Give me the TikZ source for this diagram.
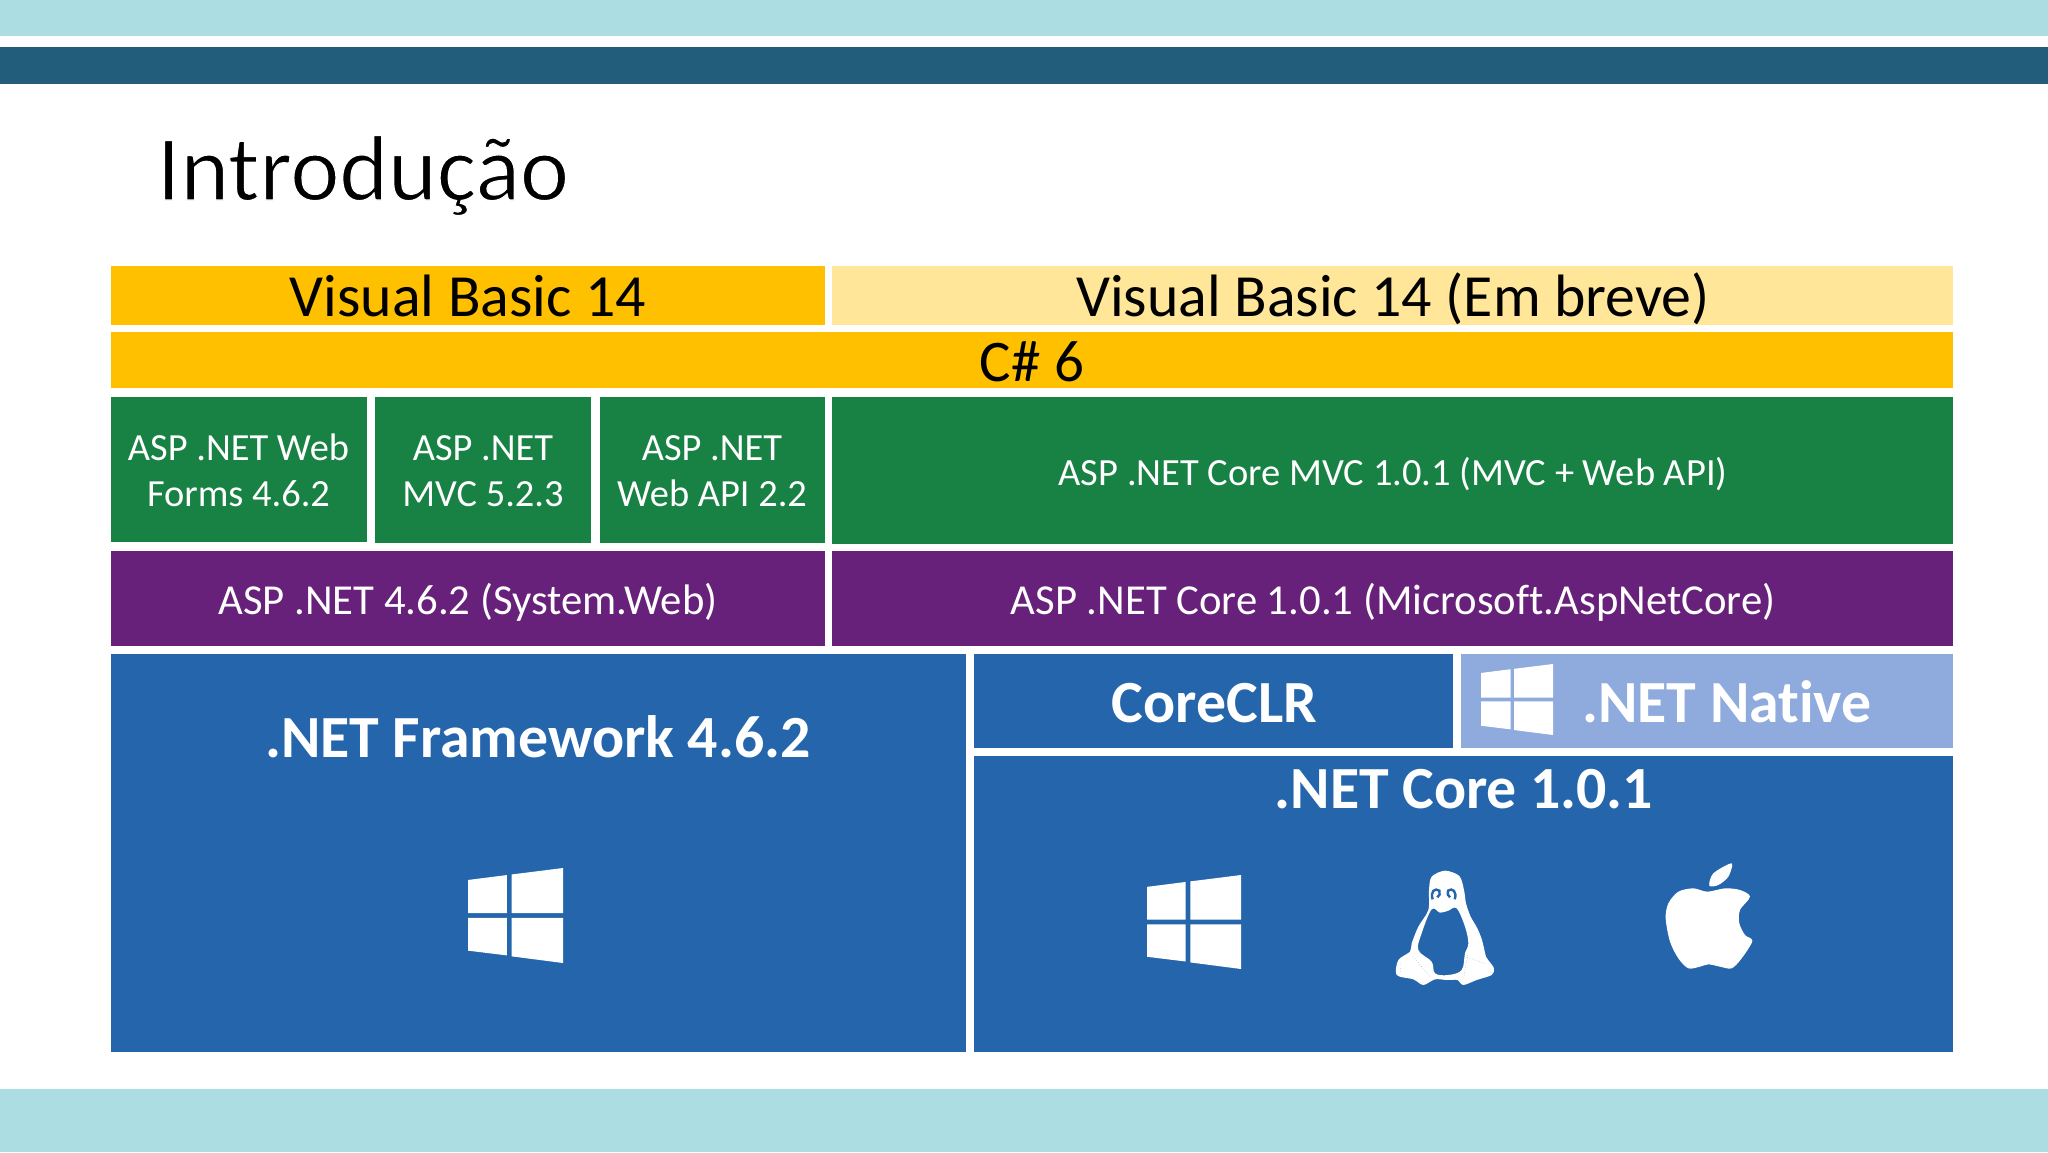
\documentclass[tikz,border=0pt]{standalone}
\usepackage{fontspec}
\setmainfont[Ligatures=NoCommon]{Carlito}
\definecolor{lightband}{HTML}{ACDDE2}
\definecolor{darkband}{HTML}{225D7C}
\definecolor{amber}{HTML}{FFC000}
\definecolor{paleamber}{HTML}{FFE699}
\definecolor{aspgreen}{HTML}{188144}
\definecolor{asppurple}{HTML}{68217A}
\definecolor{netblue}{HTML}{2565AB}
\definecolor{nativeblue}{HTML}{8FAADC}
\newcommand{\fs}[2]{\fontsize{#1}{#2}\selectfont}
\newcommand{\bx}[6]{\fill[#6] (#1,-#2) rectangle (#3,-#4); \coordinate (#5) at ({(#1+#3)/2},{-(#2+#4)/2});}
\newcommand{\winlogo}[4]{%
  \begin{scope}[shift={(#1,-#2)},x=#3pt,y=-#4pt]
    \fill[white] (0,0.126) -- (0.41,0.074) -- (0.41,0.475) -- (0,0.475) -- cycle;
    \fill[white] (0.46,0.068) -- (1,0) -- (1,0.475) -- (0.46,0.475) -- cycle;
    \fill[white] (0,0.525) -- (0.41,0.525) -- (0.41,0.92) -- (0,0.87) -- cycle;
    \fill[white] (0.46,0.525) -- (1,0.525) -- (1,1) -- (0.46,0.93) -- cycle;
  \end{scope}}
\tikzset{
  x=1pt,y=1pt,
  lbl/.style={inner sep=0pt,outer sep=0pt,align=center,anchor=base},
  onblack/.style={lbl,text=black},
  onwhite/.style={lbl,text=white},
  headlabel/.style={lbl,text=white,font=\bfseries\fs{59.8}{60}}
}
\begin{document}
\begin{tikzpicture}
\useasboundingbox (0,0) rectangle (2048,-1152);
\fill[white] (0,0) rectangle (2048,-1152);
\fill[lightband] (0,0) rectangle (2048,-36);
\fill[darkband] (0,-47) rectangle (2048,-84);
\fill[lightband] (0,-1089) rectangle (2048,-1152);
\node[lbl,anchor=base west,text=black,font=\fs{92.9}{93}] (title) at (157,-200) {\special{pdf:code 2 Tr 1.2 w 1 1 1 RG}Introdução\special{pdf:code 0 Tr}};

\bx{110.5}{266}{825}{325}{vba}{amber}
\bx{832}{266}{1953}{325}{vbb}{paleamber}
\bx{110.5}{332}{1953}{388}{cs}{amber}
\bx{110.5}{397}{367}{542}{wf}{aspgreen}
\bx{375}{397}{591}{543}{mvc}{aspgreen}
\bx{599.5}{397}{825}{543}{api}{aspgreen}
\bx{832}{397}{1953}{544}{core}{aspgreen}
\bx{110.5}{551}{825}{646}{sw}{asppurple}
\bx{832}{551}{1953}{646}{anc}{asppurple}
\bx{110.5}{654}{966}{1052}{fw}{netblue}
\bx{974}{654}{1453}{748}{clr}{netblue}
\bx{1460.5}{654}{1953}{748}{nat}{nativeblue}
\bx{974}{756}{1953}{1052}{nc}{netblue}

\node[onblack,font=\fs{59.8}{60}] (t1) at (468,-316) {Visual Basic 14};
\node[onblack,font=\fs{59.8}{60}] (t2) at (1393,-316) {Visual Basic 14 (Em breve)};
\node[onblack,font=\fs{59}{60}] (t3) at (1032,-381) {C\# 6};
\node[onwhite,font=\fs{38.4}{45.6}] (t4) at (238.5,-506.5) {ASP .NET Web\\Forms 4.6.2};
\node[onwhite,font=\fs{38.4}{45.6}] (t5) at (483,-506.5) {ASP .NET\\MVC 5.2.3};
\node[onwhite,font=\fs{38.4}{45.6}] (t6) at (712,-506.5) {ASP .NET\\Web API 2.2};
\node[onwhite,font=\fs{38.5}{46}] (t7) at (1393,-485) {ASP .NET Core MVC 1.0.1 (MVC + Web API)};
\node[onwhite,font=\fs{42.7}{46}] (t8) at (468,-614) {ASP .NET 4.6.2 (System.Web)};
\node[onwhite,font=\fs{42.7}{46}] (t9) at (1393,-614) {ASP .NET Core 1.0.1 (Microsoft.AspNetCore)};
\node[headlabel] (t10) at (538,-757) {.NET Framework 4.6.2};
\node[headlabel] (t11) at (1214.5,-722) {CoreCLR};
\node[headlabel] (t12) at (1727,-722) {.NET Native};
\node[headlabel] (t13) at (1464,-808) {.NET Core 1.0.1};

\winlogo{468}{868}{95}{95}
\winlogo{1147}{875}{94}{94}
\winlogo{1481}{664}{72}{71}

% penguin
\begin{scope}[shift={(1380,-860)},x=0.3333pt,y=-0.3333pt]
  \fill[white,even odd rule]
    plot[smooth cycle,tension=0.5] coordinates {(195,32) (238,48) (252,90) (258,130) (272,170) (292,205) (306,240) (318,290) (326,302) (342,325) (335,345) (290,360) (250,375) (232,360) (200,360) (165,358) (130,375) (100,358) (50,345) (55,300) (90,275) (95,250) (115,200) (145,150) (147,90) (155,50)}
    plot[smooth cycle,tension=0.6] coordinates {(155,148) (180,158) (205,152) (230,145) (255,200) (265,250) (255,280) (245,330) (205,345) (165,340) (155,305) (115,270) (125,220)};
  \draw[netblue,line width=2.4pt] (158,118) .. controls (150,95) and (165,82) .. (178,92) .. controls (182,100) and (178,108) .. (172,112);
  \draw[netblue,line width=2.4pt] (224,118) .. controls (232,95) and (217,82) .. (204,92) .. controls (200,100) and (204,108) .. (210,112);
  \draw[netblue!55!white,line width=0.5pt,dotted] (100,290) -- (150,350) (60,310) -- (62,340) (262,285) -- (252,350) (262,292) -- (318,312);
\end{scope}

% apple
\begin{scope}[shift={(1650,-855)},x=0.3333pt,y=-0.3333pt]
  \fill[white] plot[smooth cycle,tension=0.5] coordinates {(178,92) (190,55) (245,25) (235,65) (205,90)};
  \fill[white] plot[smooth cycle,tension=0.5] coordinates {(172,110) (130,100) (85,110) (55,145) (47,190) (60,260) (85,310) (115,340) (150,335) (175,328) (210,335) (245,340) (275,310) (307,258) (285,240) (268,205) (270,165) (300,125) (270,105) (225,100)};
\end{scope}
\end{tikzpicture}
\end{document}
